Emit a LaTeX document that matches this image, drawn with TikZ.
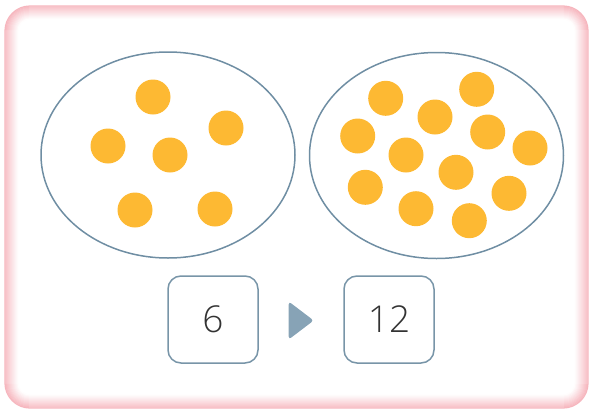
\documentclass[tikz,border=0pt]{standalone}
\usepackage{fontspec}
\setmainfont{Open Sans}[UprightFont=* Light]
\usepackage{xcolor}
\usepackage{tikz}
\usetikzlibrary{shapes.geometric}
\definecolor{dot}{HTML}{FDB933}
\definecolor{rim}{HTML}{6F8EA3}
\definecolor{boxln}{HTML}{7895A8}
\definecolor{arrowfill}{HTML}{87A3B6}
\definecolor{glow}{HTML}{F4A3AD}
\definecolor{ink}{HTML}{333333}
\tikzset{
  bag/.style={ellipse,draw=rim,line width=1.5pt,minimum width=254pt,
              minimum height=206pt,inner sep=0pt},
  bead/.style={circle,fill=dot,minimum size=35pt,inner sep=0pt},
  numbox/.style={draw=boxln,line width=1.5pt,rounded corners=13pt,fill=white,
                 minimum width=90pt,minimum height=87pt,inner sep=0pt,
                 font=\fontsize{37pt}{40pt}\selectfont,text=ink},
  pointer/.style={isosceles triangle,isosceles triangle stretches,fill=arrowfill,
                  rounded corners=3pt,minimum width=38pt,minimum height=25pt,
                  inner sep=0pt,anchor=west},
}

\begin{document}
\begin{tikzpicture}[x=1pt,y=-1pt]
\useasboundingbox (0,0) rectangle (592,410);
% soft pink frame
\foreach \i in {0,...,13}{
  \pgfmathsetmacro{\pct}{max(0,80-6*\i)}
  \draw[draw=glow!\pct!white,line width=1.3pt,rounded corners=25pt-\i pt]
    (5+\i,6+\i) rectangle (588-\i,408-\i);
}

% the two sets
\node[bag] (left) at (168,155) {};
\node[bag] (right) at (436.5,155.5) {};

% six beads
\foreach \x/\y [count=\k] in {153/97,108/146,226/128,170/155,135/210,215/209}
  \node[bead] (l\k) at (\x,\y) {};

% twelve beads
\foreach \x/\y [count=\k] in {385.7/98.3,476.7/89.3,435/117,357.7/136,487.7/132,530/148,
                              406/155,456/172.3,365.3/187.3,509/193.3,416/208.7,469.3/220.7}
  \node[bead] (r\k) at (\x,\y) {};

% counts
\node[numbox] (six) at (213,319.5) {6};
\node[numbox] (twelve) at (389,319.5) {12};
\node[pointer] (step) at (288.5,320.5) {};
\end{tikzpicture}
\end{document}
